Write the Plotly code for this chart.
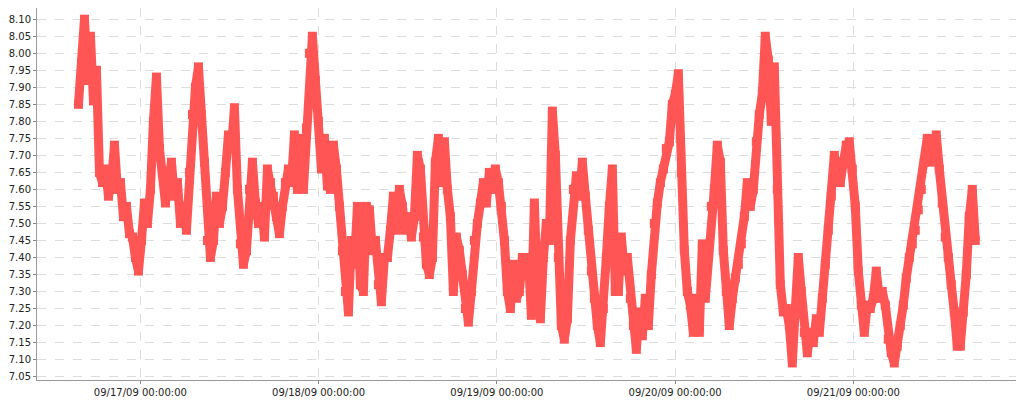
import pandas as pd
import plotly.graph_objects as go

# readings from 09/16/09 15:40 to 09/21/09 16:25, evenly spaced
start_time = "2009-09-16 15:40"
end_time = "2009-09-21 16:25"
values = [
    7.85, 7.97, 8.10, 7.92, 8.05, 7.86, 7.95, 7.65, 7.62, 7.66,
    7.58, 7.62, 7.73, 7.60, 7.62, 7.52, 7.55, 7.47, 7.46, 7.40,
    7.36, 7.45, 7.56, 7.50, 7.60, 7.80, 7.93, 7.72, 7.65, 7.56,
    7.62, 7.68, 7.58, 7.62, 7.50, 7.55, 7.48, 7.65, 7.82, 7.90,
    7.96, 7.82, 7.68, 7.45, 7.40, 7.45, 7.58, 7.50, 7.55, 7.65,
    7.76, 7.72, 7.84, 7.60, 7.44, 7.38, 7.42, 7.60, 7.68, 7.56,
    7.50, 7.55, 7.46, 7.66, 7.62, 7.58, 7.52, 7.47, 7.55, 7.62,
    7.66, 7.62, 7.76, 7.60, 7.75, 7.60, 7.78, 8.00, 8.05, 7.92,
    7.80, 7.66, 7.75, 7.61, 7.60, 7.73, 7.66, 7.55, 7.42, 7.30,
    7.24, 7.45, 7.38, 7.55, 7.32, 7.30, 7.55, 7.54, 7.42, 7.45,
    7.32, 7.27, 7.40, 7.40, 7.48, 7.58, 7.48, 7.60, 7.55, 7.48,
    7.52, 7.46, 7.52, 7.70, 7.66, 7.46, 7.38, 7.35, 7.40, 7.68,
    7.75, 7.62, 7.74, 7.60, 7.52, 7.30, 7.46, 7.42, 7.35, 7.25,
    7.21, 7.30, 7.45, 7.50, 7.56, 7.62, 7.56, 7.65, 7.60, 7.66,
    7.62, 7.55, 7.45, 7.30, 7.25, 7.38, 7.28, 7.30, 7.40, 7.36,
    7.40, 7.23, 7.56, 7.30, 7.22, 7.40, 7.50, 7.45, 7.83, 7.70,
    7.40, 7.20, 7.16, 7.22, 7.45, 7.60, 7.64, 7.58, 7.68, 7.58,
    7.48, 7.36, 7.28, 7.20, 7.15, 7.25, 7.40, 7.55, 7.66, 7.30,
    7.30, 7.46, 7.36, 7.40, 7.28, 7.20, 7.13, 7.24, 7.17, 7.28,
    7.20, 7.35, 7.50, 7.56, 7.62, 7.66, 7.72, 7.74, 7.85, 7.88,
    7.94, 7.65, 7.42, 7.30, 7.26, 7.18, 7.28, 7.18, 7.44, 7.28,
    7.42, 7.55, 7.60, 7.73, 7.68, 7.42, 7.30, 7.20, 7.28, 7.34,
    7.38, 7.44, 7.52, 7.62, 7.55, 7.60, 7.74, 7.82, 7.88, 8.05,
    7.98, 7.80, 7.96, 7.60, 7.32, 7.24, 7.25, 7.20, 7.09, 7.25,
    7.40, 7.30, 7.18, 7.12, 7.18, 7.15, 7.22, 7.18, 7.28, 7.38,
    7.48, 7.58, 7.70, 7.65, 7.62, 7.68, 7.73, 7.74, 7.66, 7.55,
    7.36, 7.26, 7.18, 7.26, 7.25, 7.28, 7.36, 7.28, 7.30, 7.26,
    7.16, 7.12, 7.09, 7.14, 7.20, 7.26, 7.34, 7.40, 7.44, 7.48,
    7.54, 7.60, 7.68, 7.75, 7.68, 7.72, 7.76, 7.66, 7.56, 7.46,
    7.40, 7.32, 7.24, 7.14, 7.14, 7.24, 7.35, 7.52, 7.60, 7.45,
]
times = pd.date_range(start_time, end_time, periods=len(values))

fig = go.Figure()
fig.add_trace(go.Scatter(
    x=times, y=values, mode="lines+markers",
    line=dict(color="#ff5555", width=9),
    marker=dict(symbol="square", size=9, color="#ff5555"),
    showlegend=False,
))

grid = dict(showgrid=True, gridcolor="#dddddd", griddash="dash", gridwidth=1)

# page body has an 8px margin, so the figure is a bit smaller than the window
fig.update_layout(
    width=1016, height=392,
    margin=dict(l=29, r=8, t=0, b=20),
    paper_bgcolor="white", plot_bgcolor="white",
    font=dict(family="DejaVu Sans", size=10, color="#222222"),
    xaxis=dict(
        type="date",
        range=["2009-09-16 10:05", "2009-09-21 21:54"],
        tick0="2009-09-17", dtick=86400000,
        tickformat="%m/%d/%y %H:%M:%S",
        ticks="outside", ticklen=3, tickcolor="#888888",
        showline=True, linecolor="#999999", mirror=True,
        zeroline=False, automargin=False, **grid,
    ),
    yaxis=dict(
        range=[7.040, 8.133],
        tick0=7.05, dtick=0.05, tickformat=".2f",
        ticks="outside", ticklen=3, tickcolor="#888888",
        showline=True, linecolor="#999999", mirror=True,
        zeroline=False, automargin=False, **grid,
    ),
)

fig.write_html("out.html")
